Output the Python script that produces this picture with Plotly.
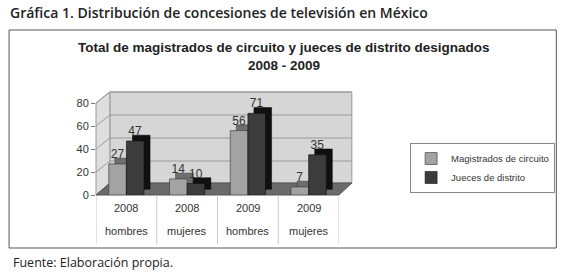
import plotly.graph_objects as go

# ---- data ----
years = ["2008", "2008", "2009", "2009"]
groups = ["hombres", "mujeres", "hombres", "mujeres"]
magistrados = [27, 14, 56, 7]
jueces = [47, 10, 71, 35]
y_ticks = [0, 20, 40, 60, 80]

W, H = 567, 274
ML, MR, MT, MB = 96, 225, 103, 79
PW, PH = W - ML - MR, H - MT - MB


def px(x):
    return (x - ML) / PW


def py(y):
    return (H - MB - y) / PH


def ypix(v):
    return (H - MB) - v * PH / 80.0


xs = list(range(len(years)))
bw = 0.29
dx = 0.10  # depth offset in category units
dz = 5     # depth offset in value units

fig = go.Figure()
# depth (side/top) faces, drawn first
fig.add_trace(go.Bar(x=xs, y=magistrados, base=dz, offset=-bw + dx, width=bw,
                     marker=dict(color="#6e6e6e", line=dict(color="#333", width=0.5)),
                     showlegend=False, hoverinfo="skip"))
fig.add_trace(go.Bar(x=xs, y=magistrados, offset=-bw, width=bw, name="Magistrados de circuito",
                     marker=dict(color="#a3a3a3", line=dict(color="#333", width=0.6)),
                     text=[str(v) for v in magistrados], textposition="outside",
                     textfont=dict(size=12, color="#333", family="Liberation Sans")))
fig.add_trace(go.Bar(x=xs, y=jueces, base=dz, offset=dx, width=bw,
                     marker=dict(color="#101010", line=dict(color="#000", width=0.5)),
                     showlegend=False, hoverinfo="skip"))
fig.add_trace(go.Bar(x=xs, y=jueces, offset=0, width=bw, name="Jueces de distrito",
                     marker=dict(color="#3c3c3c", line=dict(color="#111", width=0.6)),
                     text=[str(v) for v in jueces], textposition="outside",
                     textfont=dict(size=12, color="#333", family="Liberation Sans")))

shapes = []
# outer frame
shapes.append(dict(type="rect", xref="paper", yref="paper", x0=px(8), x1=px(562), y0=py(248), y1=py(30),
                   line=dict(color="#555", width=1), fillcolor="rgba(0,0,0,0)", layer="below"))
# back wall + left wall
shapes.append(dict(type="path", xref="paper", yref="paper", layer="below",
                   path=f"M {px(110)} {py(183)} L {px(355)} {py(183)} L {px(355)} {py(92)} L {px(110)} {py(92)} Z",
                   fillcolor="#d6d6d6", line=dict(color="#999", width=1)))
shapes.append(dict(type="path", xref="paper", yref="paper", layer="below",
                   path=f"M {px(96)} {py(195)} L {px(110)} {py(183)} L {px(110)} {py(92)} L {px(96)} {py(103)} Z",
                   fillcolor="#dedede", line=dict(color="#999", width=1)))
# gridlines on walls
for t in y_ticks[1:]:
    yp = ypix(t)
    shapes.append(dict(type="path", xref="paper", yref="paper", layer="below",
                       path=f"M {px(96)} {py(yp)} L {px(110)} {py(yp - 11)} L {px(355)} {py(yp - 11)}",
                       line=dict(color="#9a9a9a", width=1)))
# floor
shapes.append(dict(type="path", xref="paper", yref="paper", layer="below",
                   path=f"M {px(96)} {py(195)} L {px(342)} {py(195)} L {px(355)} {py(183)} L {px(110)} {py(183)} Z",
                   fillcolor="#6a6a6a", line=dict(color="#555", width=1)))
# category table dividers
for b in [-0.5, 0.5, 1.5, 2.5, 3.5]:
    shapes.append(dict(type="line", xref="x", yref="paper", x0=b, x1=b, y0=py(244), y1=0,
                       line=dict(color="#c8c8c8", width=1)))

annotations = [
    dict(text="Gráfica 1. Distribución de concesiones de televisión en México", xref="paper", yref="paper",
         x=px(7), y=py(12), xanchor="left", yanchor="middle", showarrow=False,
         font=dict(family="Open Sans", size=14, color="#222", weight=600)),
    dict(text="<b>Total de magistrados de circuito y jueces de distrito designados</b>", xref="paper", yref="paper",
         x=px(286), y=py(47), xanchor="center", yanchor="middle", showarrow=False,
         font=dict(family="Liberation Sans", size=13.5, color="#222")),
    dict(text="<b>2008 - 2009</b>", xref="paper", yref="paper",
         x=px(286), y=py(65), xanchor="center", yanchor="middle", showarrow=False,
         font=dict(family="Liberation Sans", size=13.5, color="#222")),
    dict(text="Fuente: Elaboración propia.", xref="paper", yref="paper",
         x=px(10), y=py(262), xanchor="left", yanchor="middle", showarrow=False,
         font=dict(family="Open Sans", size=12.5, color="#222")),
]
for i in xs:
    annotations.append(dict(text=years[i], xref="x", yref="paper", x=i, y=py(208), yanchor="middle",
                            showarrow=False, font=dict(family="Liberation Sans", size=11, color="#333")))
    annotations.append(dict(text=groups[i], xref="x", yref="paper", x=i, y=py(231), yanchor="middle",
                            showarrow=False, font=dict(family="Liberation Sans", size=11, color="#333")))

fig.update_layout(
    width=W, height=H,
    margin=dict(l=ML, r=MR, t=MT, b=MB),
    paper_bgcolor="white", plot_bgcolor="rgba(0,0,0,0)",
    barmode="overlay",
    shapes=shapes, annotations=annotations,
    xaxis=dict(range=[-0.5, 3.5], showticklabels=False, showgrid=False, zeroline=False, showline=False,
               fixedrange=True),
    yaxis=dict(range=[0, 80], tickvals=y_ticks, showgrid=False, zeroline=False, showline=False,
               ticks="outside", ticklen=4, tickcolor="#777",
               tickfont=dict(family="Liberation Sans", size=11, color="#333")),
    legend=dict(x=px(414), y=py(143), xanchor="left", yanchor="top",
                bgcolor="white", bordercolor="#888", borderwidth=1,
                font=dict(family="Liberation Sans", size=9.5, color="#333"),
                itemwidth=30, tracegroupgap=0),
)
fig.update_traces(cliponaxis=False, selector=dict(type="bar"))

fig.write_html("out.html", config={"displayModeBar": False},
               post_script="document.body.style.margin='0';")
